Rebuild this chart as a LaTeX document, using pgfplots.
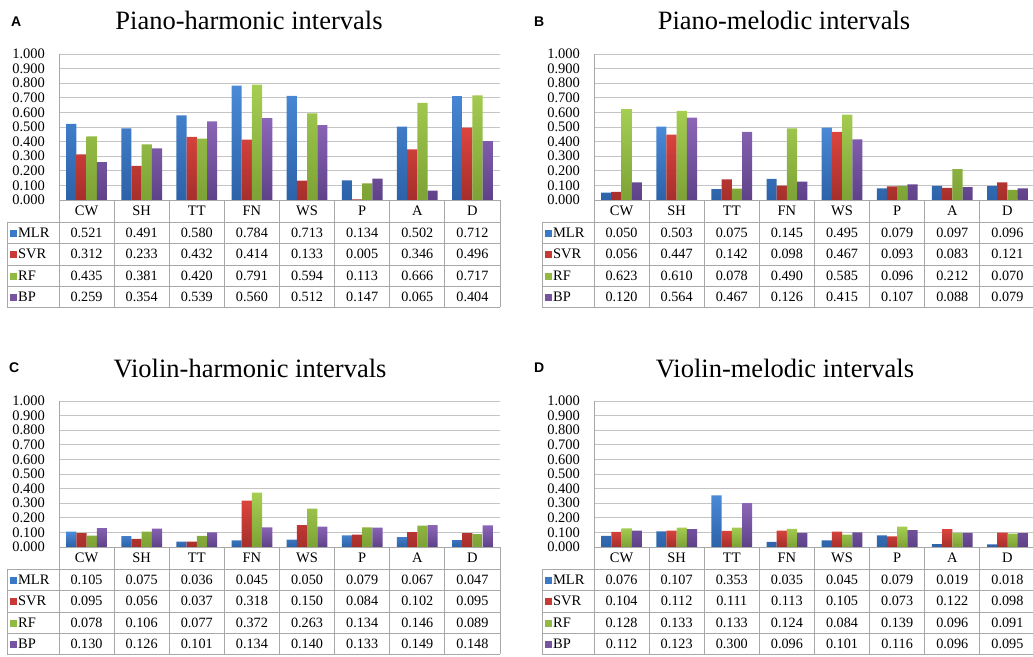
\documentclass[border=0pt]{standalone}
\usepackage{pgfplots}
\pgfplotsset{compat=1.18}
\usepackage{pgfplotstable}
\usepackage{fontspec}
\setmainfont{Liberation Serif}
\newfontfamily\panelLabelFont{Liberation Sans}

\definecolor{mlrT}{HTML}{4A8AD8}\definecolor{mlrB}{HTML}{2C62A8}\definecolor{mlr}{HTML}{3A78C8}
\definecolor{svrT}{HTML}{DC443E}\definecolor{svrB}{HTML}{A52F2B}\definecolor{svr}{HTML}{C83A35}
\definecolor{rfT}{HTML}{A6CE52}\definecolor{rfB}{HTML}{7DA235}\definecolor{rf}{HTML}{92BA43}
\definecolor{bpT}{HTML}{8C66B8}\definecolor{bpB}{HTML}{5E4288}\definecolor{bp}{HTML}{7654A0}
\definecolor{gridc}{HTML}{C4C4C4}
\definecolor{tblc}{HTML}{A8A8A8}

\pgfplotstableread{
x MLR SVR RF BP
0 0.521 0.312 0.435 0.259
1 0.491 0.233 0.381 0.354
2 0.580 0.432 0.420 0.539
3 0.784 0.414 0.791 0.560
4 0.713 0.133 0.594 0.512
5 0.134 0.005 0.113 0.147
6 0.502 0.346 0.666 0.065
7 0.712 0.496 0.717 0.404
}\dataA
\pgfplotstableread{
x MLR SVR RF BP
0 0.050 0.056 0.623 0.120
1 0.503 0.447 0.610 0.564
2 0.075 0.142 0.078 0.467
3 0.145 0.098 0.490 0.126
4 0.495 0.467 0.585 0.415
5 0.079 0.093 0.096 0.107
6 0.097 0.083 0.212 0.088
7 0.096 0.121 0.070 0.079
}\dataB
\pgfplotstableread{
x MLR SVR RF BP
0 0.105 0.095 0.078 0.130
1 0.075 0.056 0.106 0.126
2 0.036 0.037 0.077 0.101
3 0.045 0.318 0.372 0.134
4 0.050 0.150 0.263 0.140
5 0.079 0.084 0.134 0.133
6 0.067 0.102 0.146 0.149
7 0.047 0.095 0.089 0.148
}\dataC
\pgfplotstableread{
x MLR SVR RF BP
0 0.076 0.104 0.128 0.112
1 0.107 0.112 0.133 0.123
2 0.353 0.111 0.133 0.300
3 0.035 0.113 0.124 0.096
4 0.045 0.105 0.084 0.101
5 0.079 0.073 0.139 0.116
6 0.019 0.122 0.096 0.096
7 0.018 0.098 0.091 0.095
}\dataD

\newcommand{\myTickFont}{\rmfamily\fontsize{14.5bp}{16bp}\selectfont}
\newcommand{\myNumFont}{\rmfamily\fontsize{14.2bp}{16bp}\selectfont}
\newcommand{\myTitleFont}{\rmfamily\fontsize{26.5bp}{30bp}\selectfont}
\newcommand{\myLetterFont}{\panelLabelFont\bfseries\fontsize{14bp}{16bp}\selectfont}

\tikzset{tl/.style={draw=tblc, line width=0.8bp}}

\pgfplotsset{
  panel/.style={
    scale only axis, width=441bp, height=146bp,
    anchor=south west,
    xmin=-0.5, xmax=7.5, ymin=0, ymax=1,
    clip=false,
    axis lines*=left,
    axis line style={draw=tblc, line width=0.8bp},
    ymajorgrids, grid style={draw=gridc, line width=0.8bp},
    major tick length=0pt,
    ytick={0,0.1,0.2,0.3,0.4,0.5,0.6,0.7,0.8,0.9,1.0},
    scaled y ticks=false,
    yticklabel style={anchor=east, xshift=-10.5bp, /pgf/number format/fixed, /pgf/number format/fixed zerofill, /pgf/number format/precision=3, /pgf/number format/assume math mode=true},
    xtick={0,1,2,3,4,5,6,7},
    xticklabels={CW,SH,TT,FN,WS,P,A,D},
    xticklabel style={anchor=center, yshift=-11bp},
    tick label style={font=\myTickFont},
  },
  trow/.style={only marks, mark=none, forget plot,
    point meta=explicit,
    nodes near coords={\pgfmathprintnumber[fixed,fixed zerofill,precision=3,assume math mode=true]{\pgfplotspointmeta}},
    nodes near coords style={anchor=center, text=black, font=\myNumFont, inner sep=0pt}},
}

\newcommand{\panel}[3]{%
\begin{axis}[panel, at={(#2,#3)}]
  \addplot[ybar, bar width=0.185, bar shift=-0.2775, draw=none, top color=mlrT, bottom color=mlrB] table[x=x,y=MLR]{#1};
  \addplot[ybar, bar width=0.185, bar shift=-0.0925, draw=none, top color=svrT, bottom color=svrB] table[x=x,y=SVR]{#1};
  \addplot[ybar, bar width=0.185, bar shift=0.0925, draw=none, top color=rfT, bottom color=rfB] table[x=x,y=RF]{#1};
  \addplot[ybar, bar width=0.185, bar shift=0.2775, draw=none, top color=bpT, bottom color=bpB] table[x=x,y=BP]{#1};
  \addplot[trow] table[x=x, y expr=-0.2226, meta=MLR]{#1};
  \addplot[trow] table[x=x, y expr=-0.3700, meta=SVR]{#1};
  \addplot[trow] table[x=x, y expr=-0.5170, meta=RF]{#1};
  \addplot[trow] table[x=x, y expr=-0.6610, meta=BP]{#1};
  \draw[tl] (axis cs:-1.443,-0.1507) -- (axis cs:7.5,-0.1507);
  \draw[tl] (axis cs:-1.443,-0.2945) -- (axis cs:7.5,-0.2945);
  \draw[tl] (axis cs:-1.443,-0.4450) -- (axis cs:7.5,-0.4450);
  \draw[tl] (axis cs:-1.443,-0.5890) -- (axis cs:7.5,-0.5890);
  \draw[tl] (axis cs:-1.443,-0.7330) -- (axis cs:7.5,-0.7330);
  \draw[tl] (axis cs:-1.443,-0.1507) -- (axis cs:-1.443,-0.7330);
  \pgfplotsinvokeforeach{-0.5,0.5,1.5,2.5,3.5,4.5,5.5,6.5,7.5}{%
    \draw[tl] (axis cs:##1,0) -- (axis cs:##1,-0.7330);}
  \node[anchor=west, inner sep=0pt, font=\myTickFont] at (axis cs:-1.40,-0.2226) {\textcolor{mlr}{\rule[0.5bp]{7bp}{7bp}}\hspace{1.5bp}MLR};
  \node[anchor=west, inner sep=0pt, font=\myTickFont] at (axis cs:-1.40,-0.3700) {\textcolor{svr}{\rule[0.5bp]{7bp}{7bp}}\hspace{1.5bp}SVR};
  \node[anchor=west, inner sep=0pt, font=\myTickFont] at (axis cs:-1.40,-0.5170) {\textcolor{rf}{\rule[0.5bp]{7bp}{7bp}}\hspace{1.5bp}RF};
  \node[anchor=west, inner sep=0pt, font=\myTickFont] at (axis cs:-1.40,-0.6610) {\textcolor{bp}{\rule[0.5bp]{7bp}{7bp}}\hspace{1.5bp}BP};
\end{axis}}

\begin{document}
\begin{tikzpicture}
\path[use as bounding box] (0,0) rectangle (1033bp,657bp);
\panel{\dataA}{59bp}{457bp}
\panel{\dataB}{594bp}{457bp}
\panel{\dataC}{59bp}{110bp}
\panel{\dataD}{594bp}{110bp}
\node[anchor=base, inner sep=0pt, font=\myTitleFont] at (249bp,627bp) {Piano-harmonic intervals};
\node[anchor=base, inner sep=0pt, font=\myTitleFont] at (784bp,627bp) {Piano-melodic intervals};
\node[anchor=base, inner sep=0pt, font=\myTitleFont] at (250bp,279bp) {Violin-harmonic intervals};
\node[anchor=base, inner sep=0pt, font=\myTitleFont] at (785bp,279bp) {Violin-melodic intervals};
\node[anchor=base west, inner sep=0pt, font=\myLetterFont] at (11bp,630bp) {A};
\node[anchor=base west, inner sep=0pt, font=\myLetterFont] at (534bp,630bp) {B};
\node[anchor=base west, inner sep=0pt, font=\myLetterFont] at (9bp,284bp) {C};
\node[anchor=base west, inner sep=0pt, font=\myLetterFont] at (534bp,284bp) {D};
\end{tikzpicture}
\end{document}
